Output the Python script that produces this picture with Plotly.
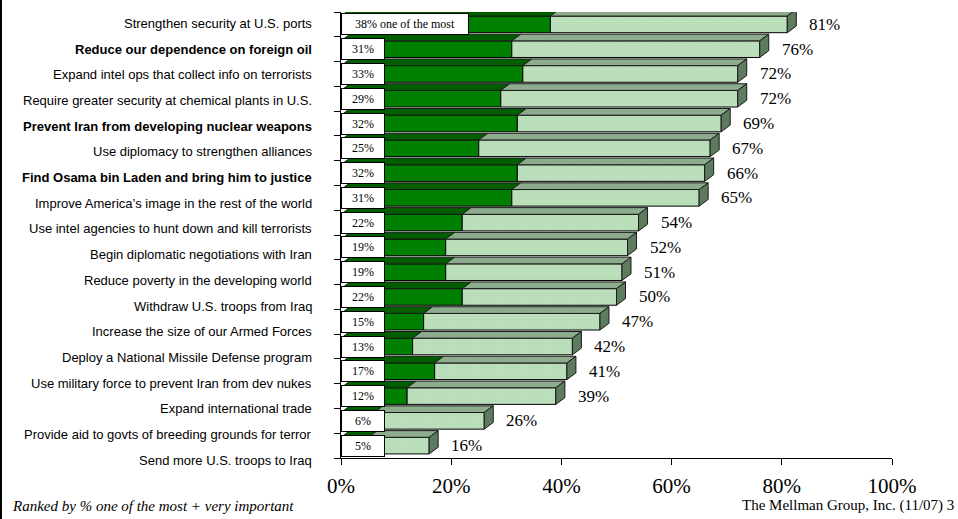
import plotly.graph_objects as go

# Priorities, ranked top to bottom
categories = [
    "Strengthen security at U.S. ports",
    "Reduce our dependence on foreign oil",
    "Expand intel ops that collect info on terrorists",
    "Require greater security at chemical plants in U.S.",
    "Prevent Iran from developing nuclear weapons",
    "Use diplomacy to strengthen alliances",
    "Find Osama bin Laden and bring him to justice",
    "Improve America\u2019s image in the rest of the world",
    "Use intel agencies to hunt down and kill terrorists",
    "Begin diplomatic negotiations with Iran",
    "Reduce poverty in the developing world",
    "Withdraw U.S. troops from Iraq",
    "Increase the size of our Armed Forces",
    "Deploy a National Missile Defense program",
    "Use military force to prevent Iran from dev nukes",
    "Expand international trade",
    "Provide aid to govts of breeding grounds for terror",
    "Send more U.S. troops to Iraq",
]
# % "one of the most important"
most_important = [38, 31, 33, 29, 32, 25, 32, 31, 22, 19, 19, 22, 15, 13, 17, 12, 6, 5]
# % "one of the most" + "very important"
total_important = [81, 76, 72, 72, 69, 67, 66, 65, 54, 52, 51, 50, 47, 42, 41, 39, 26, 16]
bold_items = {
    "Reduce our dependence on foreign oil",
    "Prevent Iran from developing nuclear weapons",
    "Find Osama bin Laden and bring him to justice",
}
x_tick_values = [0, 20, 40, 60, 80, 100]
x_tick_labels = ["0%", "20%", "40%", "60%", "80%", "100%"]

# ---- page geometry ----
W, H = 958, 519
ML, MR, MT, MB = 341, 66, 12, 61
plot_w = W - ML - MR
plot_h = H - MT - MB
n = len(categories)

px_per_pct = plot_w / 100.0
px_per_cat = plot_h / n

# 3-D extrusion of the bars (pixels -> data units)
depth_x = 9.0 / px_per_pct
depth_y = 6.7 / px_per_cat
half = 0.335

# item labels run down the left side with a slightly wider spacing than the bars
label_first_px = 23.3
label_step_px = 25.7
label_right_px = 314


def paper_x(px):
    return (px - ML) / plot_w


def paper_y(py):
    return (H - MB - py) / plot_h


ys = list(range(n))
very_only = [t - m for t, m in zip(total_important, most_important)]

DARK = "#008000"
DARK_TOP = "#005e00"
LIGHT = "#bde0bd"
LIGHT_TOP = "#8dac8d"
SIDE = "#5f7b5f"
SERIF = "Liberation Serif, Times New Roman, serif"
SANS = "Liberation Sans, Arial, sans-serif"

fig = go.Figure()

# front faces
fig.add_trace(go.Bar(
    y=ys, x=most_important, orientation="h", width=2 * half,
    marker=dict(color=DARK, line=dict(color="#000000", width=1)),
    hoverinfo="skip",
))
fig.add_trace(go.Bar(
    y=ys, x=very_only, base=most_important, orientation="h", width=2 * half,
    marker=dict(color=LIGHT, line=dict(color="#000000", width=1),
                pattern=dict(shape=".", fgcolor="#a9cfa9", bgcolor=LIGHT, size=3, solidity=0.3)),
    hoverinfo="skip",
))


def top_faces(starts, ends):
    xs, yv = [], []
    for i, (a, b) in enumerate(zip(starts, ends)):
        yt = i - half
        xs += [a, b, b + depth_x, a + depth_x, a, None]
        yv += [yt, yt, yt - depth_y, yt - depth_y, yt, None]
    return xs, yv


def side_faces(ends):
    xs, yv = [], []
    for i, b in enumerate(ends):
        yt, yb = i - half, i + half
        xs += [b, b, b + depth_x, b + depth_x, b, None]
        yv += [yb, yt, yt - depth_y, yb - depth_y, yb, None]
    return xs, yv


for (xs, yv), color in [
    (top_faces([0] * n, most_important), DARK_TOP),
    (top_faces(most_important, total_important), LIGHT_TOP),
    (side_faces(total_important), SIDE),
]:
    fig.add_trace(go.Scatter(
        x=xs, y=yv, mode="lines", fill="toself", fillcolor=color,
        line=dict(color="#1a1a1a", width=1), hoverinfo="skip",
    ))

annotations = []
for i, (m, t) in enumerate(zip(most_important, total_important)):
    first = i == 0
    annotations.append(dict(
        x=0, y=i, xref="x", yref="y", xanchor="left", yanchor="middle",
        text=f"{m}% one of the most" if first else f"{m}%",
        showarrow=False, bgcolor="#ffffff", bordercolor="#000000",
        borderwidth=1, borderpad=0, width=126 if first else 42, height=20,
        font=dict(family=SERIF, size=12, color="#000000"),
    ))
    annotations.append(dict(
        x=t, y=i, xref="x", yref="y", xanchor="left", yanchor="middle",
        xshift=20, text=f"{t}%", showarrow=False,
        font=dict(family=SERIF, size=17, color="#000000"),
    ))

for i, c in enumerate(categories):
    annotations.append(dict(
        x=paper_x(label_right_px), y=paper_y(label_first_px + label_step_px * i),
        xref="paper", yref="paper", xanchor="right", yanchor="middle",
        text=f"<b>{c}</b>" if c in bold_items else c, showarrow=False,
        font=dict(family=SANS, size=13, color="#000000"),
    ))

annotations.append(dict(
    x=paper_x(10), y=paper_y(506.5), xref="paper", yref="paper",
    xanchor="left", yanchor="middle", showarrow=False,
    text="<i>Ranked by % one of the most + very important</i>",
    font=dict(family=SERIF, size=15, color="#000000"),
))
annotations.append(dict(
    x=paper_x(956), y=paper_y(505), xref="paper", yref="paper",
    xanchor="right", yanchor="middle", showarrow=False,
    text="The Mellman Group, Inc. (11/07) 3",
    font=dict(family=SERIF, size=15, color="#000000"),
))

fig.update_layout(
    width=W, height=H, autosize=False,
    margin=dict(l=ML, r=MR, t=MT, b=MB, pad=0),
    paper_bgcolor="#ffffff", plot_bgcolor="#ffffff",
    barmode="overlay", showlegend=False,
    annotations=annotations,
    shapes=[dict(
        type="line", xref="paper", yref="paper",
        x0=paper_x(1), x1=paper_x(1), y0=paper_y(H), y1=paper_y(0),
        line=dict(color="#000000", width=2),
    )],
    xaxis=dict(
        range=[0, 100], tickvals=x_tick_values, ticktext=x_tick_labels,
        ticks="outside", ticklen=6, tickcolor="#000000",
        ticklabelstandoff=3,
        showline=True, linecolor="#000000", linewidth=1,
        showgrid=False, zeroline=False,
        tickfont=dict(family=SERIF, size=21, color="#000000"),
        fixedrange=True,
    ),
    yaxis=dict(
        range=[n - 0.5, -0.5], tickvals=[i - 0.5 for i in range(n + 1)],
        showticklabels=False, ticks="outside", ticklen=6, tickcolor="#000000",
        showline=True, linecolor="#000000", linewidth=1,
        showgrid=False, zeroline=False, fixedrange=True,
    ),
)

fig.write_html("out.html")
